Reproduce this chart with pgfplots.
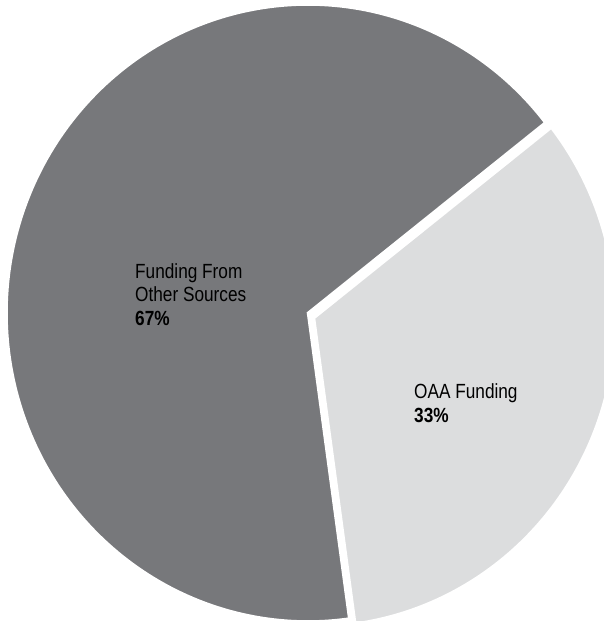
\documentclass[border=0pt]{standalone}
\usepackage{pgfplots}
\pgfplotsset{compat=1.18}
\usepackage{fontspec}
\setmainfont[FakeStretch=0.84]{Liberation Sans}
\definecolor{sliceA}{HTML}{77787B}
\definecolor{sliceB}{HTML}{DCDDDE}
\begin{document}
\begin{tikzpicture}
\begin{axis}[
  width=604pt, height=621pt, scale only axis,
  xmin=0, xmax=604, ymin=0, ymax=621,
  hide axis, clip=true,
]
% shares (percent), labels are rounded
\def\valB{33.4}
\def\valA{66.6}
\pgfmathsetmacro{\startB}{38.1}
\pgfmathsetmacro{\endB}{\startB-3.6*\valB}
\pgfmathsetmacro{\endA}{\startB+3.6*\valA}
% Funding From Other Sources (67%)
\addplot[fill=sliceA, draw=white, line width=2.5pt, line join=miter, domain=\startB:\endA, samples=200]
  ({308+301.5*cos(x)}, {308+308.5*sin(x)}) -- (axis cs:308,308) -- cycle;
% OAA Funding (33%), exploded
\addplot[fill=sliceB, draw=white, line width=2.5pt, line join=miter, domain=\endB:\startB, samples=120]
  ({314+301.5*cos(x)}, {303+308.5*sin(x)}) -- (axis cs:314,303) -- cycle;
\node[anchor=base west, inner sep=0, font=\fontsize{20.5}{24}\selectfont, text=black] at (axis cs:135,342) {Funding From};
\node[anchor=base west, inner sep=0, font=\fontsize{20.5}{24}\selectfont, text=black] at (axis cs:135,319) {Other Sources};
\node[anchor=base west, inner sep=0, font=\fontsize{20.5}{24}\selectfont\bfseries, text=black] at (axis cs:135,295) {67\%};
\node[anchor=base west, inner sep=0, font=\fontsize{20.5}{24}\selectfont, text=black] at (axis cs:414,222) {OAA Funding};
\node[anchor=base west, inner sep=0, font=\fontsize{20.5}{24}\selectfont\bfseries, text=black] at (axis cs:414,198) {33\%};
\end{axis}
\pgfresetboundingbox
\useasboundingbox (current axis.south west) rectangle (current axis.north east);
\end{tikzpicture}
\end{document}
